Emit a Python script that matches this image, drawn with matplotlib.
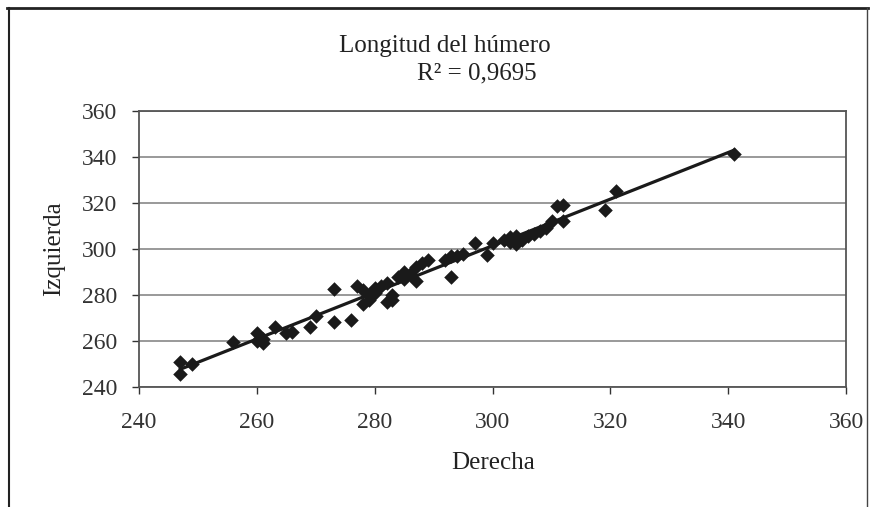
import matplotlib
matplotlib.use("Agg")
import matplotlib.pyplot as plt
from matplotlib.lines import Line2D
import numpy as np

# humerus length, right vs left
derecha = [247, 247, 249, 256, 260, 260, 261, 261, 263, 265, 266, 269, 270,
           273, 273, 276, 277, 278, 278, 279, 279, 280, 280, 281, 282, 282,
           283, 283, 284, 285, 285, 286, 287, 287, 288, 289, 292, 293, 293,
           294, 295, 297, 299, 300, 302, 303, 303, 304, 304, 305, 306, 307,
           308, 309, 310, 311, 312, 312, 319, 321, 341]
izquierda = [251, 245.5, 250, 259.5, 263.5, 260, 259, 261, 266, 263.5, 264,
             266, 271, 282.5, 268, 269, 284, 282, 276, 278, 280, 283, 281,
             284, 277, 285, 278, 280, 288, 287, 290, 289, 286, 292, 294, 295,
             295, 288, 297, 297, 298, 302.5, 297.5, 302.5, 304, 305, 303, 302,
             305.5, 304, 305.5, 306.5, 308, 309, 312, 318.5, 319, 312, 317,
             325, 341.5]
ticks = [240, 260, 280, 300, 320, 340, 360]

plt.rcParams['font.family'] = ['Liberation Serif', 'DejaVu Serif']

fig = plt.figure(figsize=(8.75, 5.07), dpi=100)
ax = fig.add_axes([0.159, 0.237, 0.808, 0.544])

x = np.array(derecha)
y = np.array(izquierda)
m, b = np.polyfit(x, y, 1)
xs = np.array([x.min(), x.max()])
ax.plot(xs, m * xs + b, color='#1a1a1a', lw=2.3, zorder=3)
ax.scatter(x, y, marker='D', s=55, color='#1a1a1a', zorder=4, linewidths=0)

ax.set_xlim(240, 360)
ax.set_ylim(240, 360)
ax.set_xticks(ticks)
ax.set_yticks(ticks)
ax.tick_params(labelsize=17, colors='#333333', length=5, width=1)
ax.tick_params(axis='x', pad=13)
ax.tick_params(axis='y', pad=11)
ax.yaxis.grid(True, color='#888888', lw=1.2)
ax.set_axisbelow(True)
for s in ax.spines.values():
    s.set_color('#555555')
    s.set_linewidth(1.3)

ax.set_xlabel('Derecha', fontsize=18, color='#222222', labelpad=14)
ax.set_ylabel('Izquierda', fontsize=18, color='#222222', labelpad=12)

fig.text(0.508, 0.91, 'Longitud del húmero', ha='center', va='center',
         fontsize=18, color='#222222')
fig.text(0.545, 0.855, 'R² = 0,9695', ha='center', va='center',
         fontsize=18, color='#222222')

# outer chart frame (top, left, right)
fig.add_artist(Line2D([0.008, 0.992], [0.985, 0.985], color='#222222', lw=2,
                      transform=fig.transFigure))
fig.add_artist(Line2D([0.01, 0.01], [0.0, 0.985], color='#222222', lw=1.5,
                      transform=fig.transFigure))
fig.add_artist(Line2D([0.991, 0.991], [0.0, 0.985], color='#444444', lw=1,
                      transform=fig.transFigure))

fig.savefig('out.png', dpi=100)
